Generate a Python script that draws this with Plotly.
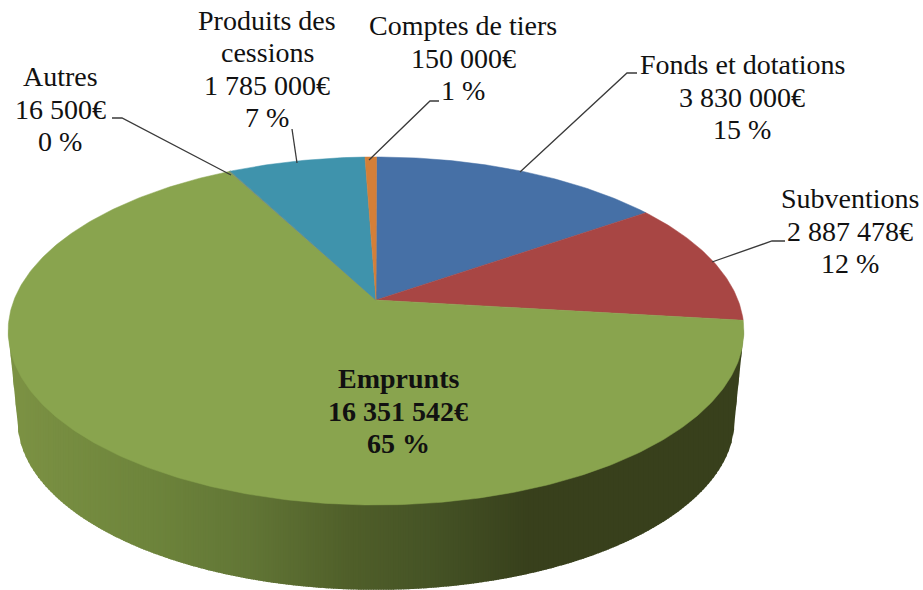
import numpy as np
import plotly.graph_objects as go

# Data
names = ["Fonds et dotations", "Subventions", "Emprunts", "Autres", "Produits des<br>cessions", "Comptes de tiers"]
values = [3830000, 2887478, 16351542, 16500, 1785000, 150000]
value_labels = ["3 830 000€", "2 887 478€", "16 351 542€", "16 500€", "1 785 000€", "150 000€"]
percent_labels = ["15 %", "12 %", "65 %", "0 %", "7 %", "1 %"]
colors = ["#4670A6", "#A84644", "#89A44E", "#89A44E", "#3F93AC", "#D47F38"]

# Layout: pixel-based plot area, perspective disc
W, H = 923, 590
CX, APEX_Y = 376, 300
A, B, K = 362, 168.5, 0.178
START_DEG = 0.1
BOTTOM_SCALE, BOTTOM_APEX_Y = 0.975, 390
LINE_STEP = 32.5
FONT_SIZE = 28

label_pos = [(742, 97), (850, 231), (398, 411), (60, 109), (267, 69), (463, 58)]
leaders = [
    ([637, 627, 520], [73, 73, 172]),
    ([785, 772, 712], [241, 241, 262]),
    ([112, 122, 231], [118, 118, 175]),
    ([292, 297], [129, 163]),
    ([439, 430, 369], [101, 101, 160]),
]
wall_stops_x = [15, 150, 250, 350, 430, 530, 740]
wall_stops_rgb = [(124, 146, 68), (110, 133, 60), (98, 118, 54), (80, 95, 42), (70, 84, 38), (56, 64, 28), (56, 64, 28)]


def project(theta, scale=1.0, apex=APEX_Y):
    u, v = np.sin(theta), -np.cos(theta)
    d = 1 - K * v
    return CX + scale * A * u / d, apex + scale * B * v / d


fig = go.Figure()

# Side wall, drawn as vertical strips shaded across its width
extreme = np.arccos(-K)  # angle of the widest point of the disc
front = np.linspace(extreme, 2 * np.pi - extreme, 720)
tx, ty = project(front)
bx, by = project(front, BOTTOM_SCALE, BOTTOM_APEX_Y)
# arcs run right to left; flip so x increases for interpolation
tx, ty, bx, by = tx[::-1], ty[::-1], bx[::-1], by[::-1]
# lower edge continues straight from the bottom arc up to the top face's widest points
lower_x = np.r_[tx[0], bx, tx[-1]]
lower_y = np.r_[ty[0], by, ty[-1]]

strip_edges = np.arange(tx[0], tx[-1], 2.5)
strip_edges = np.r_[strip_edges, tx[-1]]
for x0, x1 in zip(strip_edges[:-1], strip_edges[1:]):
    x1o = min(x1 + 1.0, tx[-1])
    xs = np.array([x0, x1o])
    up = np.interp(xs, tx, ty) - 3
    lo = np.interp(xs, lower_x, lower_y)
    xm = (x0 + x1) / 2
    rgb = [int(np.interp(xm, wall_stops_x, [c[i] for c in wall_stops_rgb])) for i in range(3)]
    col = f"rgb({rgb[0]},{rgb[1]},{rgb[2]})"
    fig.add_trace(go.Scatter(
        x=np.r_[xs, xs[::-1]], y=np.r_[up, lo[::-1]], mode="lines", fill="toself",
        fillcolor=col, line=dict(width=0), hoverinfo="skip", showlegend=False))

# Top face slices from the data values
shares = np.array(values, float) / sum(values)
cum = np.r_[0, np.cumsum(shares)] * 2 * np.pi + np.radians(START_DEG)
for i in range(len(values)):
    t = np.linspace(cum[i], cum[i + 1], max(3, int(shares[i] * 500)))
    x, y = project(t)
    fig.add_trace(go.Scatter(
        x=np.r_[CX, x, CX], y=np.r_[APEX_Y, y, APEX_Y], mode="lines", fill="toself",
        fillcolor=colors[i],
        line=dict(color="#7C8F7E" if names[i] == "Autres" else colors[i], width=1 if names[i] == "Autres" else 0.5),
        name=names[i], hoverinfo="skip", showlegend=False))

# Leader lines
for lx, ly in leaders:
    fig.add_trace(go.Scatter(x=lx, y=ly, mode="lines", line=dict(color="#3A3A3A", width=1.3),
                             hoverinfo="skip", showlegend=False))

# Labels, one annotation per line so the line spacing can be tightened
for i, (px, py) in enumerate(label_pos):
    lines = names[i].split("<br>") + [value_labels[i], percent_labels[i]]
    for j, line in enumerate(lines):
        text = f"<b>{line}</b>" if names[i] == "Emprunts" else line
        fig.add_annotation(x=px, y=py + LINE_STEP * (j - (len(lines) - 1) / 2), text=text, showarrow=False,
                           xanchor="center", yanchor="middle", align="center",
                           font=dict(family="Liberation Serif", size=FONT_SIZE, color="#111111"))

fig.update_layout(
    width=W, height=H, margin=dict(l=0, r=0, t=0, b=0),
    paper_bgcolor="white", plot_bgcolor="white", showlegend=False,
    xaxis=dict(range=[0, W], visible=False, fixedrange=True),
    yaxis=dict(range=[H, 0], visible=False, fixedrange=True),
)
fig.write_html("out.html", config={"displayModeBar": False},
               post_script="document.body.style.margin='0';document.documentElement.style.overflow='hidden';")
